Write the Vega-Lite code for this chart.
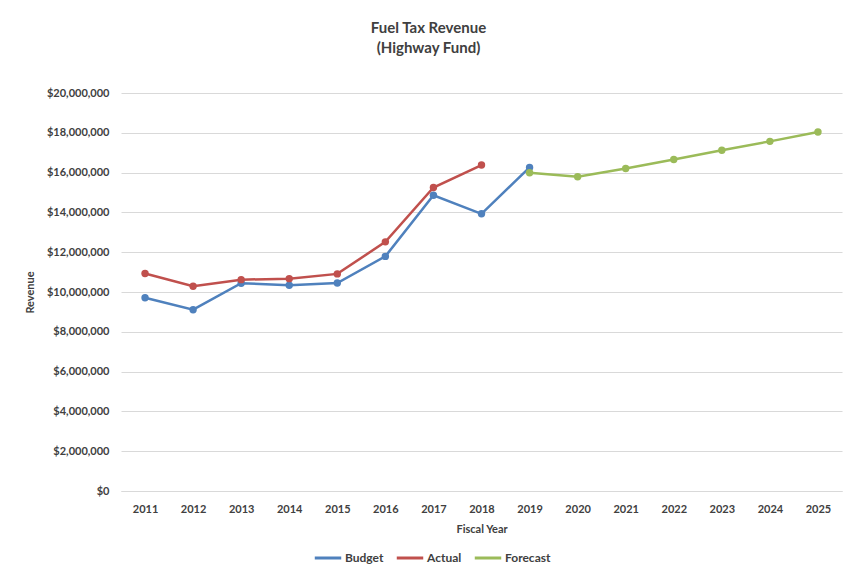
{
  "$schema": "https://vega.github.io/schema/vega-lite/v6.json",
  "width": 721,
  "height": 398,
  "autosize": {"type": "none"},
  "padding": {"left": 121, "top": 93, "right": 10, "bottom": 85},
  "background": "white",
  "title": {
    "text": ["Fuel Tax Revenue", "(Highway Fund)"],
    "font": "Lato",
    "fontSize": 15,
    "fontWeight": "bold",
    "color": "#404040",
    "anchor": "middle",
    "dx": -53,
    "offset": 31,
    "lineHeight": 20
  },
  "data": {
    "values": [
      {"year": "2011", "series": "Budget", "value": 9710000},
      {"year": "2012", "series": "Budget", "value": 9110000},
      {"year": "2013", "series": "Budget", "value": 10440000},
      {"year": "2014", "series": "Budget", "value": 10340000},
      {"year": "2015", "series": "Budget", "value": 10450000},
      {"year": "2016", "series": "Budget", "value": 11790000},
      {"year": "2017", "series": "Budget", "value": 14860000},
      {"year": "2018", "series": "Budget", "value": 13930000},
      {"year": "2019", "series": "Budget", "value": 16260000},
      {"year": "2011", "series": "Actual", "value": 10930000},
      {"year": "2012", "series": "Actual", "value": 10290000},
      {"year": "2013", "series": "Actual", "value": 10620000},
      {"year": "2014", "series": "Actual", "value": 10670000},
      {"year": "2015", "series": "Actual", "value": 10910000},
      {"year": "2016", "series": "Actual", "value": 12520000},
      {"year": "2017", "series": "Actual", "value": 15250000},
      {"year": "2018", "series": "Actual", "value": 16380000},
      {"year": "2019", "series": "Forecast", "value": 15990000},
      {"year": "2020", "series": "Forecast", "value": 15790000},
      {"year": "2021", "series": "Forecast", "value": 16210000},
      {"year": "2022", "series": "Forecast", "value": 16660000},
      {"year": "2023", "series": "Forecast", "value": 17120000},
      {"year": "2024", "series": "Forecast", "value": 17570000},
      {"year": "2025", "series": "Forecast", "value": 18040000}
    ]
  },
  "mark": {"type": "line", "strokeWidth": 2.5, "point": {"filled": true, "size": 55}},
  "encoding": {
    "x": {
      "field": "year",
      "type": "ordinal",
      "scale": {"type": "point", "padding": 0.5},
      "axis": {
        "title": "Fiscal Year",
        "labelAngle": 0,
        "labelFont": "Lato",
        "labelFontSize": 11,
        "labelFontWeight": "bold",
        "labelColor": "#404040",
        "labelPadding": 12,
        "titleFont": "Lato",
        "titleFontSize": 11,
        "titleFontWeight": "bold",
        "titleColor": "#404040",
        "titlePadding": 9,
        "ticks": false,
        "domainColor": "#d9d9d9",
        "grid": false
      }
    },
    "y": {
      "field": "value",
      "type": "quantitative",
      "scale": {"domain": [0, 20000000], "nice": false},
      "axis": {
        "title": "Revenue",
        "values": [0, 2000000, 4000000, 6000000, 8000000, 10000000, 12000000, 14000000, 16000000, 18000000, 20000000],
        "format": "$,.0f",
        "labelFont": "Lato",
        "labelFontSize": 11,
        "labelFontWeight": "bold",
        "labelColor": "#404040",
        "labelPadding": 12,
        "titleFont": "Lato",
        "titleFontSize": 11,
        "titleFontWeight": "bold",
        "titleColor": "#404040",
        "titlePadding": 11,
        "ticks": false,
        "domain": false,
        "gridColor": "#d9d9d9",
        "gridWidth": 1
      }
    },
    "color": {
      "field": "series",
      "type": "nominal",
      "scale": {"domain": ["Budget", "Actual", "Forecast"], "range": ["#4f81bd", "#c0504d", "#9bbb59"]},
      "legend": {
        "title": null,
        "orient": "none",
        "direction": "horizontal",
        "legendX": 192,
        "legendY": 450,
        "labelFont": "Lato",
        "labelFontSize": 12,
        "labelFontWeight": "bold",
        "labelColor": "#404040",
        "labelOffset": 2,
        "symbolType": "stroke",
        "symbolStrokeWidth": 3,
        "symbolSize": 700,
        "columnPadding": 6
      }
    }
  },
  "config": {"view": {"stroke": null}}
}
